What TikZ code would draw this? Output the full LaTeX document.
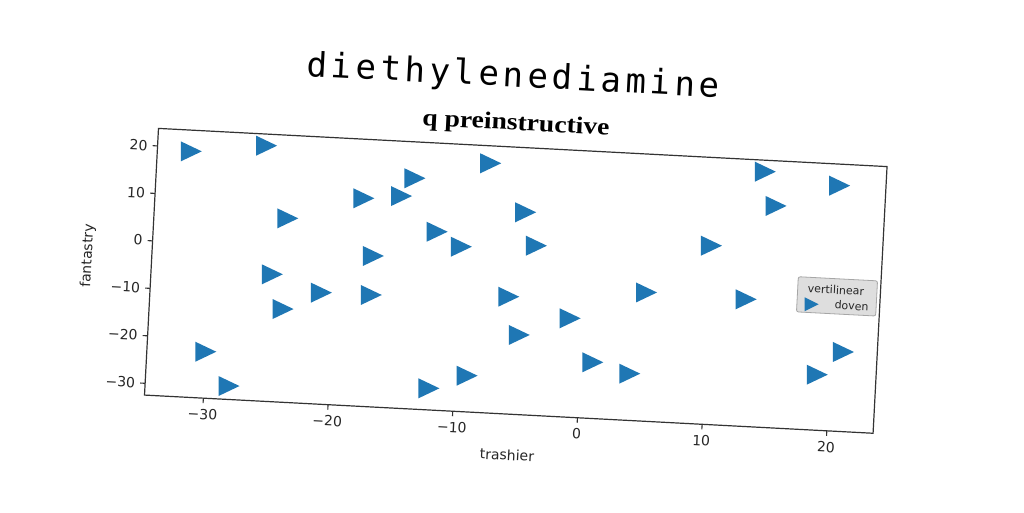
\documentclass[tikz,border=0pt]{standalone}
\usepackage{fontspec}
\setmainfont{DejaVu Sans}
\newfontfamily\supfont{DejaVu Sans Mono}[LetterSpace=12]
\newfontfamily\ttlfont{Liberation Serif}[FakeStretch=1.15]
\definecolor{mblue}{HTML}{1F77B4}
\tikzset{
  frame/.style={draw=black!80, line width=1.2pt},
  tickmark/.style={draw=black!80, line width=1.1pt},
  ticklab/.style={font=\fontsize{14}{16}\selectfont, inner sep=0pt, transform shape, text=black!85},
  axlab/.style={font=\fontsize{14}{16}\selectfont, inner sep=0pt, transform shape, text=black!85},
  legendbox/.style={draw=black!35, fill=black!13, rounded corners=2pt, line width=0.8pt, inner sep=0pt, transform shape},
  legtext/.style={font=\fontsize{11}{13}\selectfont, inner sep=0pt, transform shape, text=black!85},
  mk/.pic={\fill[mblue] (10.5pt,0pt) -- (-10.5pt,10pt) -- (-10.5pt,-10pt) -- cycle;},
  mksmall/.pic={\fill[mblue] (7pt,0pt) -- (-7pt,7pt) -- (-7pt,-7pt) -- cycle;},
}
\begin{document}
\begin{tikzpicture}[x=1pt,y=-1pt]
\useasboundingbox (0,0) rectangle (1024,512);
\fill[white] (0,0) rectangle (1024,512);
\begin{scope}[rotate around={-3:(512,256)}]
  \node[transform shape, font=\supfont\fontsize{34}{40}\selectfont, inner sep=0pt, anchor=base] (sup) at (504,87) {diethylenediamine};
  \node[transform shape, font=\ttlfont\bfseries\fontsize{24}{28}\selectfont, inner sep=0pt, anchor=base] (ttl) at (509,130) {q preinstructive};
  \begin{scope}[shift={(585.8,259.7)}, x=12.486pt, y=4.754pt]
    \draw[frame] (-34.72,-32.48) rectangle (23.71,23.69);
    \foreach \v/\t in {-30/−30,-20/−20,-10/−10,0/0,10/10,20/20} {
      \draw[tickmark] (\v,-32.48) -- ++(0pt,-5pt) node[ticklab, anchor=north, yshift=-5.5pt, name=xt\v] {\t};
      \draw[tickmark] (-34.72,\v) -- ++(-5pt,0pt) node[ticklab, anchor=east, xshift=-4.5pt, name=yt\v] {\t};
    }
    \foreach \px/\py in {-32/19.23,-26/21.25,-18/11.27,-15/12.15,-24/6.22,-17/-0.74,-25/-5.71,-8/20.02,-14/16.04,-5/10.11,-12/5.05,-10/2.17,-4/3.21,14/21.28,20/19.16,15/14.20,10/5.14,-21/-9.02,-17/-8.96,-24/-12.88,-30/-22.70,-28/-29.65,-6/-7.81,-1/-11.67,-5/-15.73,1/-20.66,4/-22.64,-9/-24.86,-12/-27.93,5/-5.40,13/-5.74,21/-15.73,19/-20.79} {
      \pic at (\px,\py) {mk};
    }
  \end{scope}
  \node[axlab] (xl) at (517.4,455) {trashier};
  \node[axlab, rotate=90] (yl) at (88.5,278) {fantastry};
  \node[legendbox, minimum width=79.3pt, minimum height=35.2pt] (leg) at (838.65,279.3) {};
  \node[legtext] (legtitle) at (837.3,273) {vertilinear};
  \pic at (813.8,288.5) {mksmall};
  \node[legtext] (legentry) at (853.8,287.9) {doven};
\end{scope}
\end{tikzpicture}
\end{document}
